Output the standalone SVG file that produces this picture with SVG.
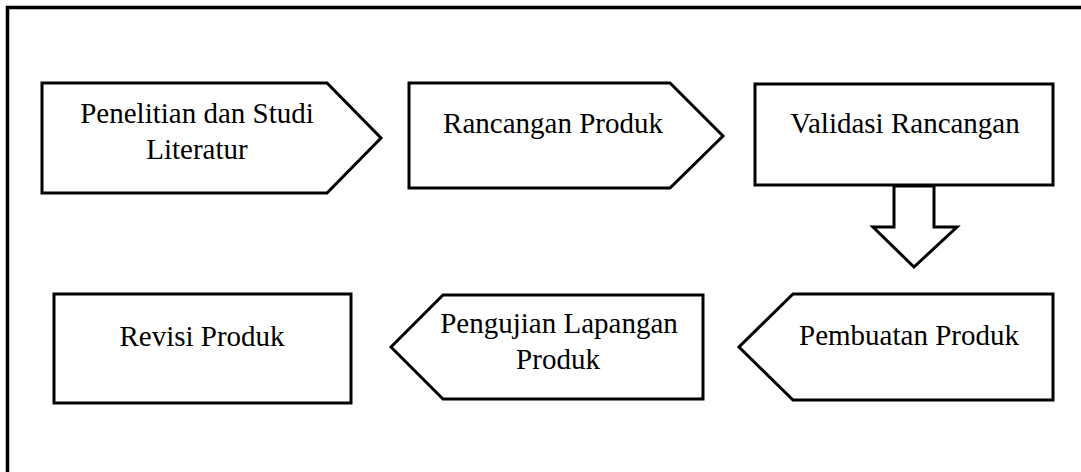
<svg xmlns="http://www.w3.org/2000/svg" width="1081" height="472" viewBox="0 0 1081 472">
<style>
.shape{fill:#fff;stroke:#000;stroke-width:3;stroke-linejoin:miter}
.frame{fill:none;stroke:#000;stroke-width:3.5}
text{font-family:"Liberation Serif","Times New Roman",serif;font-size:29px;fill:#000;text-anchor:middle}
</style>
<rect width="1081" height="472" fill="#fff"/>
<path class="frame" d="M7.5,472 V7.5 H1081"/>
<g id="n1">
<polygon class="shape" points="42,83 327,83 381,138 327,193 42,193"/>
<text x="197" y="123">Penelitian dan Studi</text>
<text x="197" y="159">Literatur</text>
</g>
<g id="n2">
<polygon class="shape" points="409,83 670,83 723,136 670,188 409,188"/>
<text x="553" y="133">Rancangan Produk</text>
</g>
<g id="n3">
<rect class="shape" x="755" y="84" width="298" height="101"/>
<text x="905" y="133">Validasi Rancangan</text>
</g>
<g id="n4">
<polygon class="shape" points="1053,294 793,294 739,347 793,400 1053,400"/>
<text x="909" y="345">Pembuatan Produk</text>
</g>
<g id="n5">
<polygon class="shape" points="703,295 443,295 391,347 443,399 703,399"/>
<text x="559" y="333">Pengujian Lapangan</text>
<text x="558" y="369">Produk</text>
</g>
<g id="n6">
<rect class="shape" x="54" y="294" width="297" height="109"/>
<text x="202" y="346">Revisi Produk</text>
</g>
<g id="connectors">
<polygon class="shape" points="894,186 934,186 934,227 957,227 914,267 873,227 894,227"/>
</g>
</svg>
